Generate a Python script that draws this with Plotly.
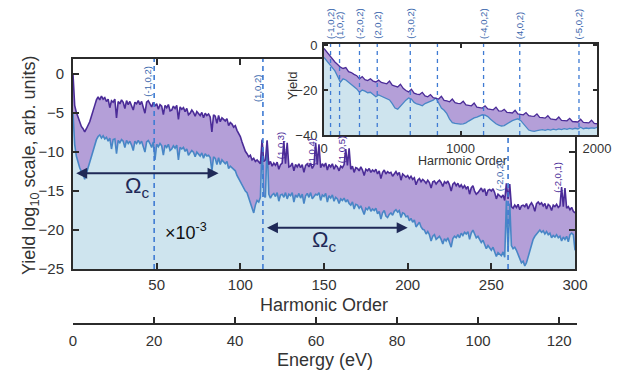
import plotly.graph_objects as go

# The page body has an 8px default margin, so the figure is drawn 8px smaller
# and every reference pixel position is shifted by that offset.
WIN_W, WIN_H = 622, 374
OFF = 8
W, H = WIN_W - OFF, WIN_H - OFF

# ---------------- data ----------------
harmonic = list(range(0, 301))

upper = [
    0.0, -4.0, -4.9, -5.6, -6.1, -6.7, -7.0, -7.4, -7.0, -6.6,
    -6.1, -5.4, -4.8, -4.0, -3.3, -2.9, -3.3, -2.8, -3.2, -3.0,
    -3.5, -3.2, -4.3, -3.4, -3.6, -3.2, -5.6, -3.5, -3.8, -3.3,
    -3.6, -4.4, -3.4, -3.9, -3.5, -4.1, -4.6, -3.6, -3.8, -3.4,
    -3.9, -3.5, -4.2, -5.0, -3.6, -3.4, -3.8, -4.2, -3.6, -4.1,
    -3.8, -4.5, -3.9, -4.1, -5.2, -4.0, -4.3, -3.9, -4.7, -4.6,
    -4.1, -4.4, -4.0, -5.8, -4.2, -4.5, -4.3, -4.8, -4.4, -5.2,
    -5.0, -4.6, -4.9, -5.4, -4.8, -5.1, -5.3, -4.9, -5.6, -5.0,
    -5.3, -5.1, -5.5, -7.4, -5.2, -5.4, -6.3, -5.3, -6.1, -5.6,
    -5.8, -6.0, -5.7, -6.6, -6.2, -6.4, -6.8, -6.6, -7.2, -7.6,
    -8.0, -8.7, -9.3, -9.9, -10.2, -10.6, -10.4, -11.0, -10.8, -11.2,
    -11.0, -11.3, -11.5, -8.4, -11.2, -11.0, -8.5, -11.6, -11.2, -11.8,
    -11.4, -11.7, -11.3, -12.2, -11.6, -11.4, -8.6, -11.5, -8.8, -11.9,
    -11.8, -11.4, -12.4, -11.6, -11.9, -11.5, -12.0, -11.6, -12.6, -11.7,
    -11.5, -11.9, -11.4, -12.1, -11.7, -8.8, -11.6, -9.0, -12.0, -11.5,
    -11.8, -11.4, -12.3, -11.6, -11.9, -11.5, -12.2, -11.7, -11.9, -12.4,
    -11.8, -12.0, -11.6, -9.6, -11.7, -9.5, -12.2, -11.8, -12.6, -12.0,
    -12.1, -12.4, -11.9, -12.3, -13.0, -12.2, -12.4, -12.1, -12.6, -12.3,
    -12.5, -12.2, -12.8, -12.4, -13.4, -12.6, -12.3, -12.8, -12.5, -12.7,
    -12.6, -13.1, -12.7, -12.5, -12.9, -12.6, -13.6, -12.8, -13.0, -13.2,
    -13.0, -13.4, -13.1, -13.5, -13.3, -14.2, -13.6, -13.4, -13.8, -13.5,
    -13.7, -14.0, -13.6, -13.9, -14.6, -13.8, -13.7, -14.1, -13.8, -13.6,
    -13.9, -14.4, -13.8, -14.0, -13.7, -14.2, -15.0, -14.1, -13.9, -14.3,
    -14.0, -14.5, -14.2, -14.6, -14.3, -14.7, -14.4, -15.4, -14.6, -14.3,
    -15.0, -15.4, -15.2, -14.8, -14.6, -15.1, -14.7, -15.6, -14.9, -14.8,
    -15.0, -14.7, -15.2, -16.0, -15.4, -15.6, -15.8, -15.5, -16.2, -14.0,
    -16.0, -14.1, -17.0, -17.2, -16.8, -17.1, -16.7, -17.4, -16.9, -16.8,
    -17.0, -16.6, -17.3, -16.8, -16.5, -16.9, -17.6, -16.6, -16.4, -16.7,
    -16.5, -16.9, -16.6, -17.3, -16.7, -16.9, -17.5, -16.8, -17.0, -16.7,
    -17.1, -16.9, -14.5, -17.0, -14.6, -17.2, -17.0, -17.4, -17.1, -17.6,
    -17.8,
]

lower = [
    -5.0, -9.0, -10.5, -11.4, -12.0, -12.5, -12.8, -13.5, -12.6, -12.0,
    -11.3, -10.6, -9.9, -9.0, -8.4, -8.0, -7.8, -8.2, -7.9, -8.3,
    -8.1, -8.6, -8.2, -9.6, -8.4, -8.3, -10.2, -8.5, -8.8, -8.4,
    -8.6, -9.4, -8.5, -8.9, -8.6, -9.1, -9.8, -8.6, -8.9, -8.5,
    -8.9, -8.6, -9.3, -10.0, -8.7, -8.5, -8.9, -9.4, -8.7, -11.0,
    -9.0, -9.3, -8.9, -9.2, -10.4, -9.1, -9.4, -9.0, -9.8, -9.6,
    -9.2, -9.5, -9.1, -11.0, -9.4, -9.6, -9.4, -9.9, -9.6, -10.4,
    -10.1, -9.8, -10.0, -10.6, -10.0, -10.2, -10.5, -10.1, -10.8, -10.2,
    -10.5, -10.4, -10.7, -12.4, -10.6, -10.8, -11.6, -10.7, -11.6, -11.0,
    -11.2, -11.5, -11.2, -12.1, -11.8, -12.0, -12.3, -12.4, -13.0, -13.4,
    -13.7, -14.2, -14.6, -15.0, -15.2, -15.8, -16.4, -17.0, -17.8, -16.8,
    -16.2, -16.4, -15.8, -8.5, -15.6, -15.8, -8.6, -15.4, -15.9, -15.5,
    -15.3, -15.7, -15.2, -16.3, -15.5, -15.4, -15.8, -15.2, -16.0, -15.4,
    -15.6, -15.2, -16.4, -15.5, -15.8, -15.3, -15.9, -15.4, -16.6, -15.6,
    -15.3, -15.8, -15.2, -16.0, -15.6, -15.4, -15.5, -15.2, -16.2, -15.5,
    -15.7, -15.3, -16.4, -15.6, -15.9, -15.5, -16.3, -15.8, -16.0, -16.6,
    -16.0, -16.2, -15.9, -16.4, -16.1, -16.6, -16.8, -16.4, -17.3, -16.7,
    -16.8, -17.2, -16.9, -17.4, -18.0, -17.2, -17.4, -17.0, -17.6, -17.3,
    -17.5, -17.2, -17.9, -17.6, -18.6, -17.8, -17.5, -18.2, -18.4, -18.0,
    -17.8, -18.1, -17.6, -17.4, -17.7, -17.5, -18.4, -17.8, -17.9, -18.3,
    -18.2, -18.8, -18.5, -19.0, -18.7, -19.6, -19.2, -19.0, -19.6, -19.9,
    -20.0, -20.5, -20.2, -20.6, -21.4, -20.8, -20.6, -21.2, -21.0, -20.8,
    -21.2, -21.8, -21.1, -21.4, -21.0, -21.5, -22.2, -21.1, -20.8, -21.0,
    -20.6, -21.0, -20.4, -20.7, -20.3, -20.5, -20.2, -21.2, -20.4, -20.0,
    -20.4, -21.0, -20.8, -21.2, -21.6, -21.3, -21.8, -22.4, -22.0, -22.3,
    -22.6, -22.2, -22.8, -23.4, -22.9, -23.1, -23.3, -22.8, -23.5, -16.2,
    -22.8, -16.6, -22.0, -22.4, -22.2, -22.6, -23.2, -23.8, -24.2, -24.0,
    -24.6, -24.2, -23.4, -22.6, -21.8, -21.2, -20.8, -20.5, -20.2, -20.0,
    -20.3, -20.1, -20.5, -20.2, -20.6, -20.4, -21.0, -20.7, -20.9, -20.6,
    -21.0, -20.8, -21.4, -20.9, -21.2, -20.8, -21.5, -20.6, -20.4, -20.6,
    -22.6,
]

inset_harmonic = list(range(0, 2001, 20))

inset_upper = [
    -1.5, -3.0, -4.8, -6.2, -7.5, -8.6, -9.8, -10.4, -10.0, -11.8,
    -12.2, -13.0, -13.6, -15.0, -14.0, -15.4, -15.8, -15.0, -16.0, -16.4,
    -15.6, -16.6, -16.9, -17.2, -16.0, -17.8, -18.2, -18.6, -17.4, -19.2,
    -20.2, -20.8, -19.6, -21.4, -21.8, -22.0, -21.0, -22.6, -23.0, -22.0,
    -23.4, -23.8, -24.0, -22.8, -24.6, -24.8, -25.2, -24.0, -25.6, -25.9,
    -26.0, -25.0, -26.6, -26.8, -27.0, -25.8, -27.6, -27.8, -28.0, -27.0,
    -28.4, -28.6, -28.8, -27.6, -29.3, -29.4, -28.6, -29.9, -30.0, -30.2,
    -29.0, -30.6, -30.8, -31.0, -30.0, -31.4, -31.6, -31.7, -30.6, -32.2,
    -32.3, -32.5, -31.4, -32.8, -33.0, -33.2, -32.0, -33.5, -33.6, -33.7,
    -32.6, -34.0, -34.1, -34.2, -33.0, -34.4, -34.5, -34.6, -33.4, -34.8,
    -35.0,
]

inset_lower = [
    -5.5, -7.0, -8.5, -10.0, -11.5, -14.0, -16.5, -15.0, -15.5, -16.5,
    -17.5, -18.5, -19.5, -21.0, -20.0, -20.5, -21.2, -21.0, -21.8, -23.0,
    -22.2, -22.8, -23.5, -24.0, -24.4, -26.0, -28.0, -28.5, -27.0, -25.8,
    -24.5, -23.5, -24.0, -25.5, -26.2, -26.5, -27.0, -26.0, -25.5, -25.0,
    -24.5, -23.5, -26.0, -28.0, -29.0, -30.5, -33.0, -34.5, -34.8, -35.0,
    -35.2, -35.0, -34.6, -33.8, -33.0, -32.4, -32.0, -31.5, -31.0, -31.2,
    -31.8, -33.0, -34.2, -35.0, -35.6, -36.0, -35.8, -35.0, -34.2, -33.6,
    -33.2, -32.8, -33.5, -35.0, -36.5, -37.8, -38.2, -38.4, -38.0, -37.8,
    -37.6, -37.9, -37.5, -37.8, -37.4, -37.7, -37.3, -37.6, -37.2, -37.5,
    -37.1, -37.4, -37.0, -37.3, -36.5, -37.2, -36.9, -37.1, -36.8, -37.0,
    -36.6,
]

main_lines = [48.5, 113.5, 260]
inset_lines = [48, 114, 260, 390, 632, 831, 1169, 1434, 1868]
inset_line_labels = ["(-1,0,2)", "(1,0,2)", "(-2,0,2)", "(2,0,2)", "(-3,0,2)", "",
                     "(-4,0,2)", "(4,0,2)", "(-5,0,2)"]

main_labels = ["(-1,0,2)", "(1,0,2)", "(1,0,3)", "(1,0,4)", "(1,0,5)", "(-2,0,2)", "(-2,0,1)"]
main_label_x = [44.5, 110, 124.5, 142.5, 160.5, 255, 289]
main_label_y = [-0.9, -1.9, -9.2, -10.0, -9.7, -13.0, -13.2]
main_label_kind = ["b", "b", "p", "p", "p", "b", "p"]

main_xticks = [50, 100, 150, 200, 250, 300]
main_yticks = [0, -5, -10, -15, -20, -25]
inset_xticks = [0, 1000, 2000]
inset_yticks = [0, -20, -40]
energy_ticks = [0, 20, 40, 60, 80, 100, 120]

X_RANGE = [0, 300]
Y_RANGE = [-25, 1.95]
IX_RANGE = [0, 2000]
IY_RANGE = [-40, 0.5]
E_RANGE = [0, 124.4]

# ---------------- styling ----------------
FONT = "Liberation Sans, Arial, sans-serif"
C_PURPLE = "#4b2c98"
C_LAV = "#b49fd8"
C_BLUE = "#4886c6"
C_LBLUE = "#cee4ee"
C_DASH = "#3f7bd3"
C_LBL_B = "#3b68ad"
C_ARROW = "#1f2957"
C_AX = "#2b2b2b"
C_TXT = "#333333"


def px_x(p):
    return (p - OFF) / W


def px_y(p):
    return 1 - (p - OFF) / H


fig = go.Figure()


def add_spectrum(xs, up, lo, yr, xa, ya, lw):
    fig.add_trace(go.Scatter(x=xs, y=[yr[0]] * len(xs), mode="lines",
                             line=dict(width=0, color=C_LBLUE), xaxis=xa, yaxis=ya,
                             hoverinfo="skip", showlegend=False))
    fig.add_trace(go.Scatter(x=xs, y=lo, mode="lines", fill="tonexty", fillcolor=C_LBLUE,
                             line=dict(width=lw, color=C_BLUE), xaxis=xa, yaxis=ya,
                             showlegend=False))
    fig.add_trace(go.Scatter(x=xs, y=up, mode="lines", fill="tonexty", fillcolor=C_LAV,
                             line=dict(width=lw, color=C_PURPLE), xaxis=xa, yaxis=ya,
                             showlegend=False))


# main spectrum
add_spectrum(harmonic, upper, lower, Y_RANGE, "x", "y", 1.6)
for xv in main_lines:
    fig.add_trace(go.Scatter(x=[xv, xv], y=Y_RANGE, mode="lines",
                             line=dict(color=C_DASH, width=1.6, dash="5px,4px"),
                             xaxis="x", yaxis="y", showlegend=False, hoverinfo="skip"))

# inset: white background, spectrum, dashed lines
fig.add_trace(go.Scatter(x=[IX_RANGE[0], IX_RANGE[1], IX_RANGE[1], IX_RANGE[0], IX_RANGE[0]],
                         y=[IY_RANGE[0], IY_RANGE[0], IY_RANGE[1], IY_RANGE[1], IY_RANGE[0]],
                         fill="toself", fillcolor="white", mode="lines",
                         line=dict(width=0, color="white"), xaxis="x2", yaxis="y2",
                         showlegend=False, hoverinfo="skip"))
add_spectrum(inset_harmonic, inset_upper, inset_lower, IY_RANGE, "x2", "y2", 1.3)
for xv in inset_lines:
    fig.add_trace(go.Scatter(x=[xv, xv], y=IY_RANGE, mode="lines",
                             line=dict(color=C_DASH, width=1.3, dash="4px,4px"),
                             xaxis="x2", yaxis="y2", showlegend=False, hoverinfo="skip"))

# energy axis carrier
fig.add_trace(go.Scatter(x=E_RANGE, y=[0, 0], mode="markers", marker=dict(opacity=0),
                         xaxis="x3", yaxis="y3", showlegend=False, hoverinfo="skip"))

axis_common = dict(showgrid=False, zeroline=False, showline=True, linecolor=C_AX,
                   ticks="inside", tickcolor=C_AX, mirror="ticks", automargin=False)

fig.update_layout(
    width=W, height=H, margin=dict(l=0, r=0, t=0, b=0, pad=0, autoexpand=False),
    paper_bgcolor="white", plot_bgcolor="rgba(0,0,0,0)",
    font=dict(family=FONT, color=C_TXT),
    xaxis=dict(domain=[px_x(73), px_x(575)], range=X_RANGE, tickvals=main_xticks,
               linewidth=2, ticklen=6, tickwidth=1.5, tickfont=dict(size=15, color=C_TXT),
               anchor="y", ticklabelstandoff=1, **axis_common),
    yaxis=dict(domain=[px_y(269), px_y(59)], range=Y_RANGE, tickvals=main_yticks,
               linewidth=2, ticklen=6, tickwidth=1.5, tickfont=dict(size=15, color=C_TXT),
               anchor="x", ticklabelstandoff=4, **axis_common),
    xaxis2=dict(domain=[px_x(324), px_x(597)], range=IX_RANGE, tickvals=inset_xticks,
                linewidth=2, ticklen=4, tickwidth=1.5, tickfont=dict(size=13, color=C_TXT),
                anchor="y2", ticklabelstandoff=0, **axis_common),
    yaxis2=dict(domain=[px_y(135), px_y(44)], range=IY_RANGE, tickvals=inset_yticks,
                linewidth=2, ticklen=4, tickwidth=1.5, tickfont=dict(size=13, color=C_TXT),
                anchor="x2", ticklabelstandoff=2, **axis_common),
    xaxis3=dict(domain=[px_x(73), px_x(577)], range=E_RANGE, tickvals=energy_ticks,
                showgrid=False, zeroline=False, showline=True, linecolor=C_AX, linewidth=2,
                ticks="inside", ticklen=6, tickwidth=1.5, tickcolor=C_AX, automargin=False,
                tickfont=dict(size=15, color=C_TXT), anchor="y3", ticklabelstandoff=3),
    yaxis3=dict(domain=[px_y(323), px_y(313)], range=[0, 1], visible=False, anchor="x3",
                automargin=False),
)

ann = []
# axis titles
ann.append(dict(text="Harmonic Order", xref="paper", yref="paper", x=px_x(324), y=px_y(305),
                showarrow=False, font=dict(size=18, color=C_TXT), xanchor="center", yanchor="middle"))
ann.append(dict(text="Energy (eV)", xref="paper", yref="paper", x=px_x(325), y=px_y(360),
                showarrow=False, font=dict(size=18, color=C_TXT), xanchor="center", yanchor="middle"))
ann.append(dict(text="Yield log<sub>10</sub> scale, arb. units)", xref="paper", yref="paper",
                x=px_x(30), y=px_y(166), textangle=-90, showarrow=False,
                font=dict(size=18, color=C_TXT), xanchor="center", yanchor="middle"))
ann.append(dict(text="Yield", xref="paper", yref="paper", x=px_x(292), y=px_y(86), textangle=-90,
                showarrow=False, font=dict(size=13, color=C_TXT), xanchor="center", yanchor="middle"))
ann.append(dict(text="Harmonic Order", xref="paper", yref="paper", x=px_x(462), y=px_y(160.5),
                showarrow=False, font=dict(size=12.5, color=C_TXT), xanchor="center", yanchor="middle"))

# line labels
for t, xv, yv, k in zip(main_labels, main_label_x, main_label_y, main_label_kind):
    ann.append(dict(text=t, xref="x", yref="y", x=xv, y=yv, textangle=-90, showarrow=False,
                    font=dict(size=9.5, color=C_LBL_B if k == "b" else C_PURPLE),
                    xanchor="center", yanchor="middle"))
for t, xv in zip(inset_line_labels, inset_lines):
    if t:
        ann.append(dict(text=t, xref="x2", yref="paper", x=xv, y=px_y(41), textangle=-90,
                        showarrow=False, font=dict(size=9.5, color=C_LBL_B),
                        xanchor="center", yanchor="bottom"))

# double arrows and Omega_c
for (x0, x1, yv) in [(1, 87, -12.7), (115, 200, -19.7)]:
    ann.append(dict(text="", xref="x", yref="y", axref="x", ayref="y", x=x1, y=yv, ax=x0, ay=yv,
                    showarrow=True, arrowside="end+start", arrowhead=2, arrowsize=1.1,
                    arrowwidth=2, arrowcolor=C_ARROW))
for (xv, yv) in [(38.5, -14.5), (150, -21.4)]:
    ann.append(dict(text="Ω<sub>c</sub>", xref="x", yref="y", x=xv, y=yv, showarrow=False,
                    font=dict(size=22, color=C_ARROW), xanchor="center", yanchor="middle"))
ann.append(dict(text="×10<sup>-3</sup>", xref="x", yref="y", x=67.5, y=-20.2, showarrow=False,
                font=dict(size=18, color="#111111"), xanchor="center", yanchor="middle"))

fig.update_layout(annotations=ann)

fig.write_html("out.html")
